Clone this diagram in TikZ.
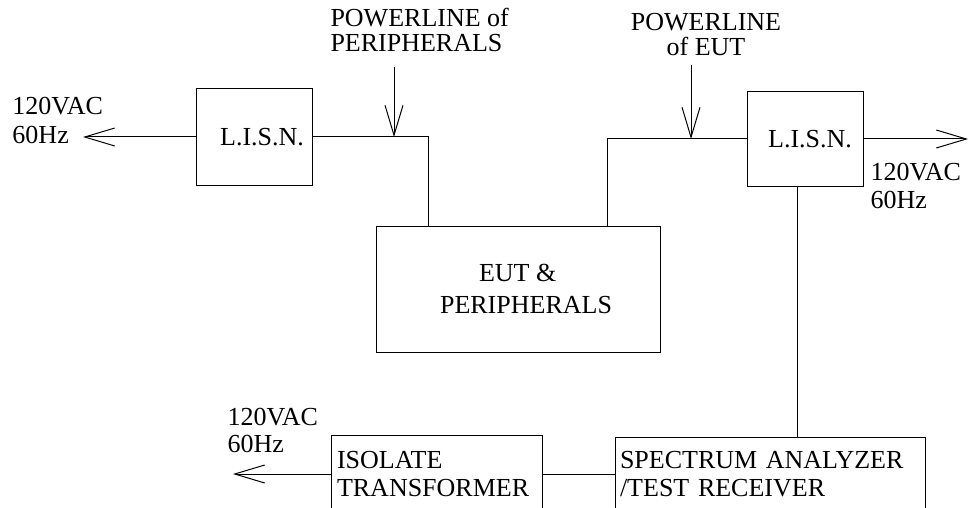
\documentclass[tikz,border=0pt]{standalone}
\usepackage{fontspec}
\setmainfont{Liberation Serif}
\usetikzlibrary{arrows.meta}
\begin{document}
\begin{tikzpicture}[x=1pt,y=-1pt,line width=1pt,
  box/.style={draw, inner sep=0pt, font=\fontsize{26}{28}\selectfont},
  lbl/.style={inner sep=0pt, align=left},
  arr/.style={-{Straight Barb[length=30pt,width=18pt]}}]
\clip (0,0) rectangle (969,508);
\fill[white] (0,0) rectangle (969,508);
% boxes
\node[box, minimum width=116pt, minimum height=96pt] (lisnL) at (254,137) {\hspace*{16pt}L.I.S.N.};
\node[box, minimum width=116pt, minimum height=94pt] (lisnR) at (805,139) {\hspace*{10pt}L.I.S.N.};
\node[box, minimum width=284pt, minimum height=126pt, align=left, font=\fontsize{26}{32}\selectfont] (eut) at (518,289) {\hspace*{55pt}EUT \&\\\hspace*{16pt}PERIPHERALS};
\node[box, text width=199pt, inner xsep=6pt, minimum height=78pt, align=left] (iso) at (436.5,474) {ISOLATE\\TRANSFORMER};
\node[box, text width=300pt, inner xsep=5pt, minimum height=74pt, align=left] (spec) at (770,474) {SPECTRUM ANALYZER\\/TEST RECEIVER};
% labels
\node[lbl, anchor=north west, font=\fontsize{26}{25}\selectfont] (plP) at (330,8) {POWERLINE of\\PERIPHERALS};
\node[lbl, anchor=north, align=center, font=\fontsize{26}{25}\selectfont] (plE) at (706,13) {POWERLINE\\of EUT};
\node[lbl, anchor=north west, font=\fontsize{26}{29}\selectfont] (acL) at (12,97) {120VAC\\60Hz};
\node[lbl, anchor=north west, font=\fontsize{26}{28}\selectfont] (acR) at (870,163) {120VAC\\60Hz};
\node[lbl, anchor=north west, font=\fontsize{26}{27}\selectfont] (acB) at (227,408) {120VAC\\60Hz};
% connectors
\coordinate (pj) at (428,137);
\draw (lisnL.east) -- (pj) -- (pj |- eut.north);
\coordinate (pp) at (394,67);
\draw[arr] (pp) -- (pp |- lisnL.east);
\coordinate (ej) at (607,139);
\draw (lisnR.west) -- (ej) -- (ej |- eut.north);
\coordinate (pe) at (691,65);
\draw[arr] (pe) -- (pe |- lisnR.west);
\coordinate (tL) at (83,137);
\draw[arr] (lisnL.west) -- (tL);
\coordinate (tR) at (968,139);
\draw[arr] (lisnR.east) -- (tR);
\coordinate (vx) at (797,0);
\draw (vx |- lisnR.south) -- (vx |- spec.north);
\draw (iso.east) -- (spec.west);
\coordinate (tB) at (233,474);
\draw[arr] (iso.west) -- (tB);
\end{tikzpicture}
\end{document}
